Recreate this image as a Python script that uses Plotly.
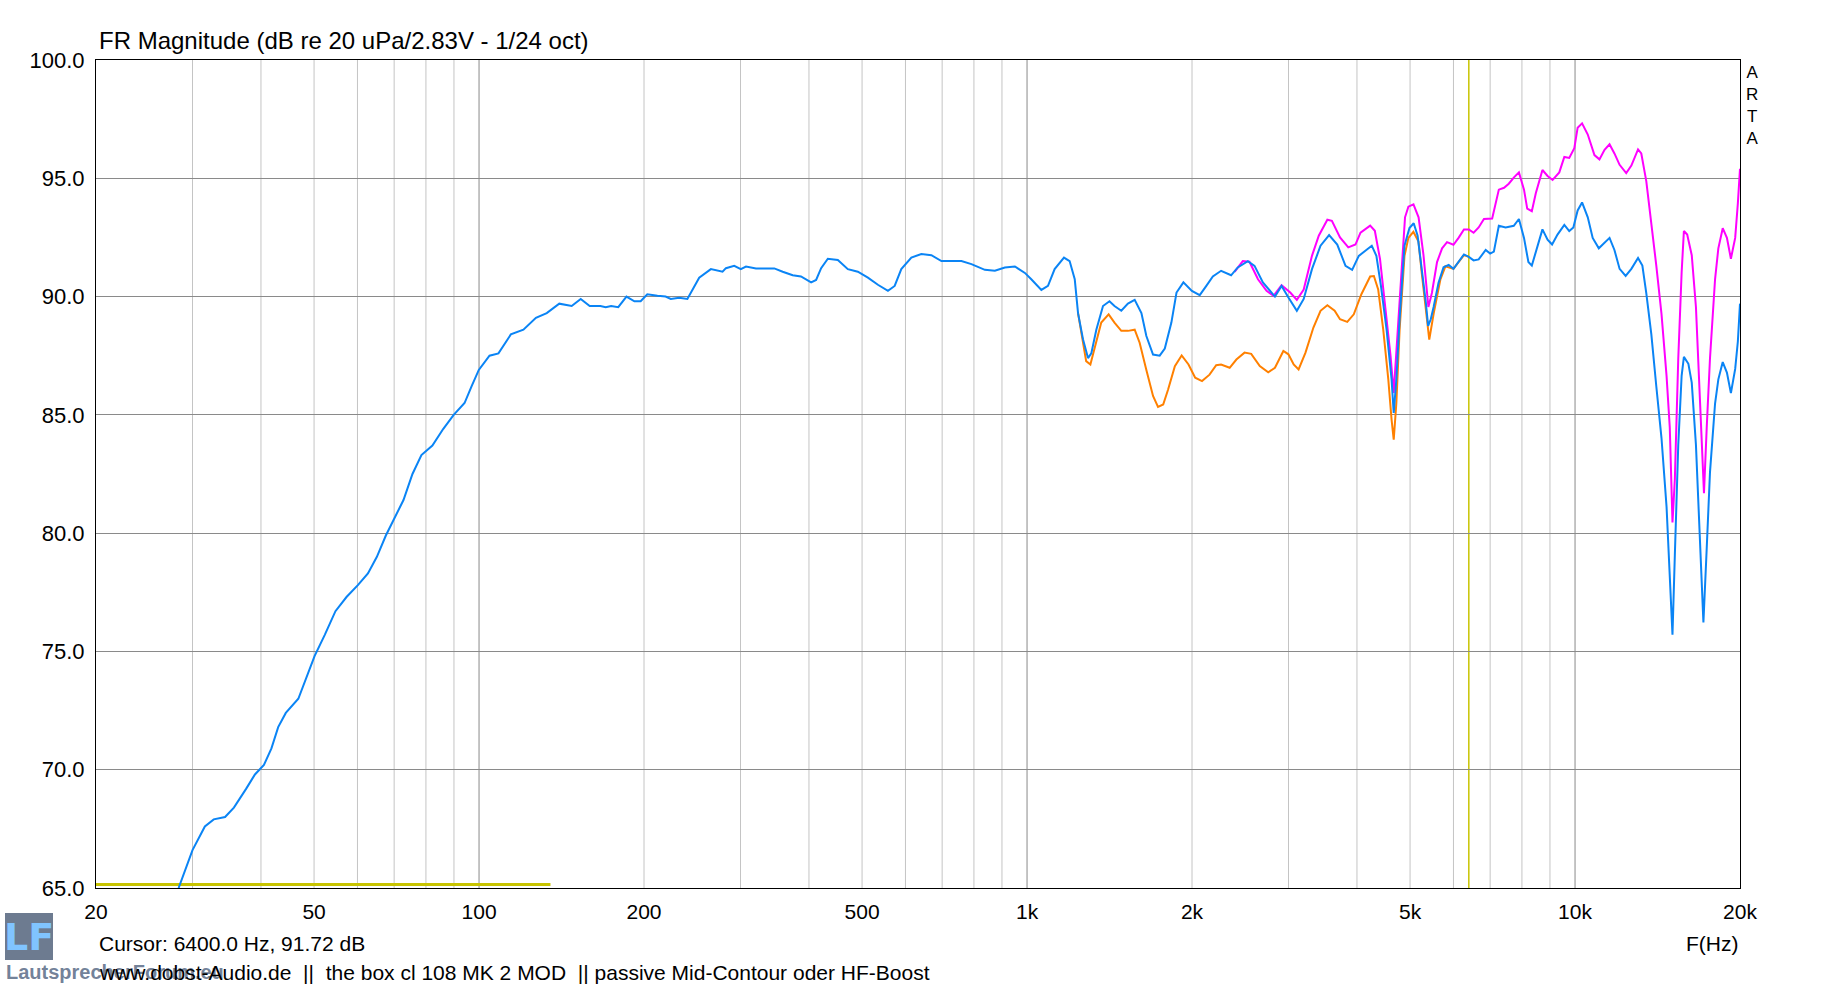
import plotly.graph_objects as go

f_blue = [28.3, 30.0, 31.6, 32.8, 34.4, 35.7, 37.6, 39.0, 40.5, 41.8, 43.0, 44.4, 46.8, 48.2,
          50.1, 52.3, 54.7, 57.3, 60.1, 62.7, 65.1, 67.6, 70.2, 72.8, 75.6, 78.5, 82.2, 86.0,
          89.9, 94.1, 96.9, 99.9, 104.5, 108.5, 114.3, 120.5, 127, 132.9, 140.1, 147.6, 153.3,
          159.2, 166.5, 170.3, 174.2, 179.5, 185.8, 192.1, 197.2, 202.8, 211.6, 219, 223.8,
          231.8, 240, 245.3, 252.2, 264.9, 278.2, 282.2, 292.2, 300.4, 307, 320.2, 338.6, 345.8,
          358.2, 373.6, 386.8, 403.6, 412.2, 421, 433, 451.6, 471, 491.2, 512.4, 534.4, 557.4,
          573.4, 589.6, 615, 641.4, 669, 697.8, 759, 791.6, 837.6, 873.6, 911, 950.2, 991,
          1018, 1062, 1092, 1123, 1168, 1196, 1222, 1239, 1265, 1292, 1310, 1338, 1376, 1414,
          1444, 1486, 1528, 1572, 1617, 1651, 1698, 1746, 1784, 1834, 1874, 1929, 1999, 2066,
          2124, 2183, 2260, 2357, 2424, 2529, 2601, 2694, 2834, 2914, 2999, 3107, 3198, 3311,
          3432, 3558, 3682, 3812, 3920, 4031, 4177, 4257, 4340, 4424, 4530, 4626, 4668, 4720,
          4785, 4884, 4987, 5077, 5161, 5269, 5342, 5394, 5454, 5520, 5635, 5755, 5880, 6000,
          6130, 6270, 6400, 6530, 6670, 6870, 7000, 7110, 7260, 7470, 7730, 7900, 8070, 8220,
          8340, 8480, 8720, 8910, 9080, 9290, 9560, 9760, 9930, 10110, 10300, 10550, 10770,
          11050, 11320, 11560, 11800, 12060, 12370, 12670, 13030, 13270, 13490, 13780, 14070,
          14380, 14690, 14890, 15060, 15210, 15430, 15650, 15800, 16100, 16330, 16620, 16860,
          17150, 17390, 17630, 18010, 18260, 18600, 18930, 19250, 19600, 19820, 20000]
db_blue = [65.0, 66.6, 67.6, 67.9, 68.0, 68.4, 69.2, 69.8, 70.2, 70.9, 71.8, 72.4, 73.0, 73.8,
           74.8, 75.7, 76.7, 77.3, 77.8, 78.3, 79.0, 79.9, 80.7, 81.4, 82.5, 83.3, 83.7, 84.4,
           85.0, 85.5, 86.2, 86.9, 87.5, 87.6, 88.4, 88.6, 89.1, 89.3, 89.7, 89.6, 89.9,
           89.6, 89.6, 89.55, 89.6, 89.55, 90.0, 89.8, 89.8, 90.1, 90.03, 90.0, 89.9,
           89.95, 89.9, 90.3, 90.8, 91.16, 91.05, 91.2, 91.3, 91.16, 91.27, 91.19, 91.19, 91.19,
           91.05, 90.9, 90.85, 90.6, 90.7, 91.2, 91.6, 91.55, 91.16, 91.05, 90.8, 90.5, 90.24,
           90.45, 91.16, 91.65, 91.8, 91.75, 91.5, 91.5, 91.37, 91.13, 91.09, 91.23, 91.27, 91.0,
           90.73, 90.28, 90.45, 91.16, 91.65, 91.5, 90.73, 89.3, 88.2, 87.4, 87.6, 88.6, 89.6, 89.8,
           89.6, 89.4, 89.7, 89.86, 89.3, 88.33, 87.55, 87.5, 87.8, 88.9, 90.17, 90.6, 90.24, 90.06,
           90.45, 90.85, 91.09, 90.9, 91.23, 91.5, 91.3, 90.6, 90.0, 90.45, 89.96, 89.4, 89.9, 91.16,
           92.15, 92.6, 92.2, 91.3, 91.13, 91.72, 92.0, 92.15, 91.72, 90.45, 88.6, 86.5, 85.08, 86.5,
           89.04, 92.15, 92.9, 93.1, 92.57, 91.0, 89.75, 88.76, 89.04, 89.56, 90.58, 91.24, 91.34, 91.17,
           91.46, 91.78, 91.68, 91.53, 91.57, 91.97, 91.82, 91.9, 92.99, 92.92, 92.99, 93.28, 92.48, 91.46,
           91.31, 91.9, 92.84, 92.4, 92.2, 92.62, 93.03, 92.77, 92.92, 93.64, 93.98, 93.35, 92.48,
           92.04, 92.3, 92.48, 91.97, 91.17, 90.87, 91.17, 91.63, 91.31, 90.15, 88.4, 86.21,
           84.02, 81.11, 77.9, 75.71, 79.07, 83.73, 86.65, 87.45, 87.16, 86.36, 83.73, 80.09,
           76.22, 79.36, 82.57, 85.48, 86.5, 87.23, 86.79, 85.92, 86.94, 88.1, 89.7]

f_orange = [1239, 1256, 1282, 1305, 1329, 1366, 1409, 1444, 1486, 1528, 1572, 1605, 1651, 1698,
             1734, 1772, 1809, 1861, 1915, 1971, 2027, 2086, 2153, 2214, 2260, 2343, 2410, 2494,
             2565, 2659, 2755, 2834, 2936, 2999, 3066, 3130, 3222, 3331, 3432, 3532, 3642, 3725,
             3840, 3947, 4075, 4228, 4295, 4373, 4467, 4563, 4626, 4668, 4720, 4785, 4884, 4965,
             5070, 5180, 5250, 5330, 5420, 5520, 5680, 5800, 6000, 6130, 6270, 6400]
db_orange = [89.3, 88.5, 87.27, 87.13, 87.84, 88.9, 89.25, 88.9, 88.55, 88.55, 88.6, 88.05, 86.9, 85.8,
             85.34, 85.44, 86.07, 87.06, 87.51, 87.13, 86.57, 86.43, 86.7, 87.1, 87.13, 86.99, 87.34, 87.63,
             87.58, 87.06, 86.8, 86.99, 87.7, 87.56, 87.13, 86.92, 87.63, 88.69, 89.4, 89.63, 89.4, 89.04,
             88.93, 89.25, 90.1, 90.85, 90.87, 90.3, 88.6, 86.5, 84.8, 83.95, 85.5, 88.6, 91.72, 92.48,
             92.74, 92.33, 91.02, 89.56, 88.18, 89.27, 90.73, 91.28, 91.17, 91.46, 91.75, 91.68]

f_magenta = [2392, 2476, 2546, 2639, 2736, 2817, 2914, 3022, 3107, 3198, 3311, 3407, 3532, 3600,
             3725, 3857, 3975, 4060, 4228, 4312, 4407, 4508, 4606, 4668, 4720, 4818, 4895, 4965,
             5072, 5182, 5290, 5400, 5480, 5600, 5720, 5840, 6000, 6130, 6270, 6400, 6530, 6670,
             6820, 7060, 7260, 7420, 7570, 7730, 7900, 8070, 8180, 8340, 8480, 8720, 8910, 9100,
             9360, 9560, 9760, 9970, 10110, 10300, 10550, 10850, 11080, 11320, 11560, 11800, 12060,
             12400, 12670, 13030, 13210, 13490, 13780, 14070, 14380, 14690, 14890, 15060, 15210,
             15430, 15650, 15800, 16020, 16330, 16620, 16860, 17100, 17190, 17390, 17630, 18010,
             18260, 18600, 18930, 19250, 19600, 19820, 20000]
db_magenta = [91.04, 91.5, 91.47, 90.73, 90.24, 90.03, 90.48, 90.17, 89.86, 90.3, 91.72, 92.57, 93.25, 93.2,
              92.5, 92.08, 92.2, 92.7, 93.0, 92.78, 91.58, 89.6, 87.49, 85.93, 87.65, 91.02, 93.35, 93.8,
              93.9, 93.35, 91.75, 89.56, 90.15, 91.46, 92.04, 92.3, 92.19, 92.48, 92.84, 92.84, 92.7, 92.92,
              93.28, 93.3, 94.52, 94.6, 94.77, 95.03, 95.25, 94.52, 93.72, 93.61, 94.37, 95.35, 95.1, 94.93,
              95.25, 95.9, 95.86, 96.27, 97.14, 97.32, 96.85, 95.98, 95.8, 96.2, 96.44, 96.05, 95.57,
              95.22, 95.54, 96.22, 96.05, 94.88, 93.2, 91.31, 89.27, 86.65, 84.46, 80.45, 82.27,
              87.38, 91.02, 92.77, 92.62, 91.75, 89.56, 85.92, 82.86, 81.69, 84.46, 87.38, 90.73,
              92.04, 92.89, 92.48, 91.6, 92.48, 93.94, 95.4]

# Marcadores del cursor
marker_f = [20, 135]
marker_db = [65.15, 65.15]
cursor_f = 6400

# Rejilla y etiquetas
grid_minor = [30, 40, 50, 60, 70, 80, 90, 200, 300, 400, 500, 600, 700, 800, 900,
              2000, 3000, 4000, 5000, 6000, 7000, 8000, 9000]
grid_major = [100, 1000, 10000]
x_ticks = [20, 50, 100, 200, 500, 1000, 2000, 5000, 10000, 20000]
x_labels = ['20', '50', '100', '200', '500', '1k', '2k', '5k', '10k', '20k']
y_ticks = [65, 70, 75, 80, 85, 90, 95, 100]

FUENTE = 'Liberation Sans, Arial, sans-serif'
W, H = 1833, 988
L, R, T, B = 96, 93, 60, 100


def px_x(p):
    return (p - L) / (W - L - R)


def px_y(p):
    return (H - B - p) / (H - T - B)


fig = go.Figure()

fig.add_trace(go.Scatter(x=marker_f, y=marker_db, mode='lines',
                         line=dict(color='#c8c400', width=3), hoverinfo='skip'))
fig.add_trace(go.Scatter(x=f_orange, y=db_orange, mode='lines', name='orange',
                         line=dict(color='#ff8000', width=2)))
fig.add_trace(go.Scatter(x=f_magenta, y=db_magenta, mode='lines', name='magenta',
                         line=dict(color='#ff00ff', width=2)))
fig.add_trace(go.Scatter(x=f_blue, y=db_blue, mode='lines', name='blue',
                         line=dict(color='#0a84f5', width=2)))

# Lineas verticales de la rejilla
for f in grid_minor:
    fig.add_shape(type='line', xref='x', yref='paper', x0=f, x1=f, y0=0, y1=1,
                  line=dict(color='#c4c4c4', width=1), layer='below')
for f in grid_major:
    fig.add_shape(type='line', xref='x', yref='paper', x0=f, x1=f, y0=0, y1=1,
                  line=dict(color='#8a8a8a', width=1), layer='below')
fig.add_shape(type='line', xref='x', yref='paper', x0=cursor_f, x1=cursor_f, y0=0, y1=1,
              line=dict(color='#c8c400', width=1.5), layer='below')

# Logo LF
fig.add_shape(type='rect', xref='paper', yref='paper',
              x0=px_x(5), x1=px_x(53), y0=px_y(960), y1=px_y(913),
              fillcolor='#6d7b90', line=dict(width=0))

anot = [
    dict(text='FR Magnitude (dB re 20 uPa/2.83V - 1/24 oct)', x=px_x(97), y=px_y(41),
         xanchor='left', yanchor='middle',
         font=dict(size=24, color='black', family=FUENTE)),
    dict(text='Cursor: 6400.0 Hz, 91.72 dB', x=px_x(97), y=px_y(943),
         xanchor='left', yanchor='middle'),
    dict(text='F(Hz)', x=1.0, y=px_y(943), xanchor='right', yanchor='middle'),
    dict(text='A<br>R<br>T<br>A', x=px_x(1744), y=px_y(61), xanchor='left', yanchor='top',
         font=dict(size=17, color='black', family=FUENTE)),
    dict(text='LF', x=px_x(29), y=px_y(937), xanchor='center', yanchor='middle',
         font=dict(size=38, color='#80c4ff', family='DejaVu Sans, sans-serif', weight='bold')),
    dict(text='LautsprecherForum.eu', x=px_x(4), y=px_y(972), xanchor='left', yanchor='middle',
         font=dict(size=20, color='rgba(90,108,135,0.85)', family=FUENTE, weight='bold')),
    dict(text='www.dobst-Audio.de\u00a0\u00a0||\u00a0\u00a0the box cl 108 MK 2 MOD\u00a0\u00a0||\u00a0passive Mid-Contour oder HF-Boost',
         x=px_x(97), y=px_y(972), xanchor='left', yanchor='middle'),
]
for a in anot:
    a.setdefault('font', dict(size=21, color='black', family=FUENTE))
    fig.add_annotation(xref='paper', yref='paper', showarrow=False, **a)

fig.update_layout(
    width=W, height=H,
    margin=dict(l=L, r=R, t=T, b=B),
    paper_bgcolor='white', plot_bgcolor='white',
    showlegend=False,
    font=dict(family=FUENTE, size=21, color='black'),
)
fig.update_xaxes(type='log', range=[1.30103, 4.30103],
                 tickvals=x_ticks, ticktext=x_labels, showgrid=False,
                 showline=True, linecolor='black', linewidth=1, mirror=True,
                 ticks='', ticklabelstandoff=5, zeroline=False)
fig.update_yaxes(range=[65, 100], tickvals=y_ticks, tickformat='.1f',
                 tickfont=dict(size=22),
                 showgrid=True, gridcolor='#8a8a8a', gridwidth=1,
                 showline=True, linecolor='black', linewidth=1, mirror=True,
                 ticks='', ticklabelstandoff=6, zeroline=False)

fig.write_html('out.html', config={'displayModeBar': False},
               post_script="document.body.style.margin='0';document.body.style.overflow='hidden';")
